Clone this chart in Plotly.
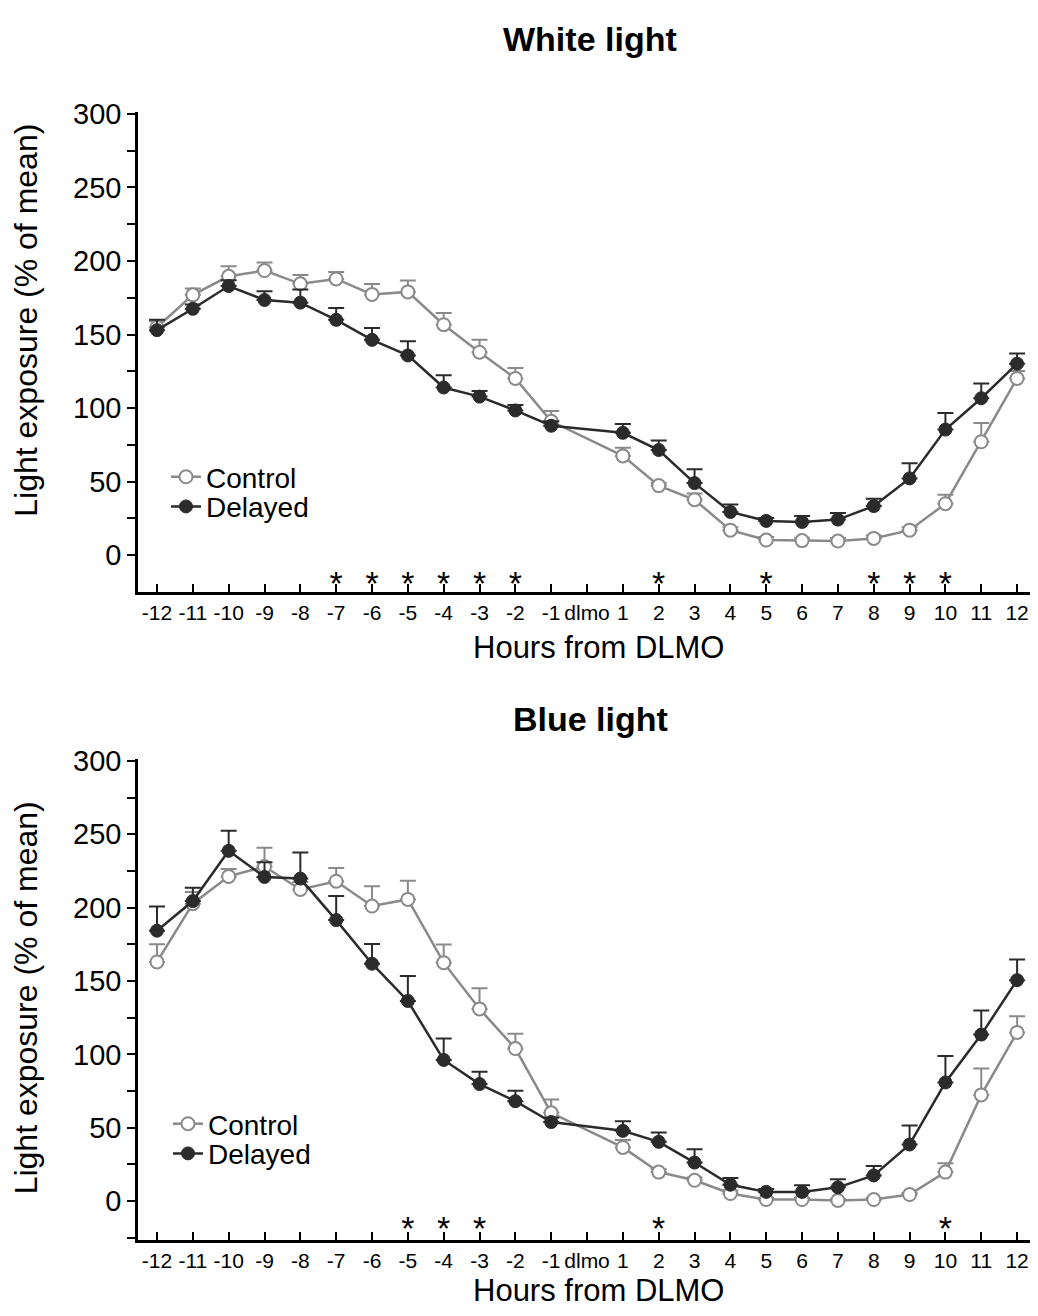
import plotly.graph_objects as go

# ---------------- data ----------------
hours = ["-12", "-11", "-10", "-9", "-8", "-7", "-6", "-5", "-4", "-3", "-2", "-1",
         "dlmo", "1", "2", "3", "4", "5", "6", "7", "8", "9", "10", "11", "12"]

white_control = [155, 177, 189.6, 193.5, 184.5, 187.8, 177.3, 179, 156.7, 138, 120.2, 91,
                 None, 67.5, 47.3, 37.7, 17, 10.3, 9.9, 9.6, 11.4, 17, 35, 77.1, 120.2]
white_control_err = [4, 4.3, 6.8, 5.5, 6, 4.7, 7, 7.7, 8, 8.4, 7, 7,
                     None, 5.5, 2, 4.3, 2, 2, 2, 2, 2, 2, 6, 12.8, 5]
white_delayed = [153, 167.5, 183, 173.5, 171.7, 160, 146.4, 135.8, 114, 107.8, 98.4, 88,
                 None, 83.2, 71.5, 49, 29.4, 23.3, 22.6, 24.2, 33.4, 52.2, 85.4, 106.7, 130.2]
white_delayed_err = [7, 3, 4, 6, 9, 8, 8, 9.7, 8.4, 3.8, 3.7, 3,
                     None, 6, 6.5, 9.5, 5, 2, 4, 4.5, 5, 10.3, 11.2, 10, 7]
white_sig = ["-7", "-6", "-5", "-4", "-3", "-2", "2", "5", "8", "9", "10"]

blue_control = [163, 202.7, 221.3, 228, 212.4, 218, 201.1, 205.6, 162.5, 131, 104, 60.2,
                None, 36.6, 19.8, 14.2, 5.2, 1.1, 1.1, 0.5, 1.1, 4.5, 19.8, 72.4, 115]
blue_control_err = [12, 8, 5, 12.8, 5, 9, 13.5, 12.8, 12.3, 14, 10, 9,
                    None, 5, 2, 2, 2, 1, 1, 1, 1, 1, 6, 18, 11]
blue_delayed = [184.3, 204.5, 238.7, 220.9, 219.8, 191.5, 161.8, 136.4, 96.2, 79.8, 68.1, 53.9,
                None, 47.9, 40.4, 26.3, 11.2, 6.3, 6.3, 9.4, 17.5, 38.6, 80.9, 113.5, 150.6]
blue_delayed_err = [16.4, 9, 13.7, 10, 17.7, 16.4, 13.5, 17, 14.6, 8.3, 7.2, 3,
                    None, 6.5, 6.3, 9, 4.5, 2, 4.5, 5.6, 6.5, 13, 18, 16.4, 14]
blue_sig = ["-5", "-4", "-3", "2", "10"]

y_ticks = [0, 50, 100, 150, 200, 250, 300]

# ---------------- styling ----------------
PAGE_MARGIN = 8           # default body margin of the html page
W, H = 1038 - 2 * PAGE_MARGIN, 1316 - 2 * PAGE_MARGIN
FONT = "Liberation Sans, Arial, sans-serif"
GRAY = "#8a8a8a"
DARK = "#2a2b2a"
SIG_Y = -21


def px_x(p):
    return (p - PAGE_MARGIN) / W


def px_y(p):
    return 1 - (p - PAGE_MARGIN) / H


fig = go.Figure()

panels = [
    dict(ctrl=white_control, ctrl_err=white_control_err, dly=white_delayed, dly_err=white_delayed_err,
         sig=white_sig, xa="x", ya="y", lg_c="legend", lg_d="legend2"),
    dict(ctrl=blue_control, ctrl_err=blue_control_err, dly=blue_delayed, dly_err=blue_delayed_err,
         sig=blue_sig, xa="x2", ya="y2", lg_c="legend3", lg_d="legend4"),
]

for p in panels:
    fig.add_trace(go.Scatter(
        x=hours, y=p["ctrl"], name="Control", mode="lines+markers", connectgaps=True,
        line=dict(color=GRAY, width=2.5),
        marker=dict(symbol="circle", size=13, color="white", line=dict(color=GRAY, width=2)),
        error_y=dict(type="data", symmetric=False, array=p["ctrl_err"],
                     arrayminus=[0] * len(hours), color=GRAY, thickness=2, width=8),
        xaxis=p["xa"], yaxis=p["ya"], legend=p["lg_c"]))
    fig.add_trace(go.Scatter(
        x=hours, y=p["dly"], name="Delayed", mode="lines+markers", connectgaps=True,
        line=dict(color=DARK, width=2.5),
        marker=dict(symbol="circle", size=13, color=DARK, line=dict(color=DARK, width=1)),
        error_y=dict(type="data", symmetric=False, array=p["dly_err"],
                     arrayminus=[0] * len(hours), color=DARK, thickness=2, width=8),
        xaxis=p["xa"], yaxis=p["ya"], legend=p["lg_d"]))
    fig.add_trace(go.Scatter(
        x=p["sig"], y=[SIG_Y] * len(p["sig"]), mode="text", text=["*"] * len(p["sig"]),
        textfont=dict(family=FONT, size=34, color="black"), showlegend=False,
        hoverinfo="skip", xaxis=p["xa"], yaxis=p["ya"]))

xdom = [px_x(138), 1.0]
xcommon = dict(type="category", categoryorder="array", categoryarray=hours,
               range=[-0.53, 24.36], showline=True, linecolor="black", linewidth=2.5,
               ticks="inside", ticklen=8, tickwidth=2, tickcolor="black",
               showgrid=False, zeroline=False, domain=xdom,
               tickfont=dict(family=FONT, size=21, color="black"))
ycommon = dict(showline=True, linecolor="black", linewidth=2.5,
               ticks="outside", ticklen=8, tickwidth=2, tickcolor="black",
               tickvals=y_ticks, showgrid=False, zeroline=False,
               minor=dict(dtick=25, tick0=0, ticks="outside", ticklen=8, tickwidth=2,
                          tickcolor="black", showgrid=False),
               tickfont=dict(family=FONT, size=29, color="black"))


def legend_at(x, y):
    return dict(x=px_x(x), y=px_y(y), xanchor="left", yanchor="middle",
                bgcolor="rgba(0,0,0,0)", borderwidth=0,
                font=dict(family=FONT, size=28, color="black"),
                itemwidth=30, tracegroupgap=0)


fig.update_layout(
    width=W, height=H, autosize=False,
    margin=dict(l=0, r=0, t=0, b=0),
    paper_bgcolor="white", plot_bgcolor="white",
    font=dict(family=FONT, color="black"),
    xaxis=dict(**xcommon, anchor="y"),
    yaxis=dict(**ycommon, range=[-24.9, 301.3], anchor="x", domain=[px_y(584), px_y(99)]),
    xaxis2=dict(**xcommon, anchor="y2"),
    yaxis2=dict(**ycommon, range=[-26.3, 301.3], anchor="x2", domain=[px_y(1239), px_y(753)]),
    legend=legend_at(166, 468),
    legend2=legend_at(166, 498),
    legend3=legend_at(168, 1122),
    legend4=legend_at(168, 1152),
    showlegend=True,
)

ann = []
for title, ty, xt_y, yt_y in [("White light", 25, 640, 310), ("Blue light", 713, 1290, 995)]:
    ann.append(dict(text=f"<b>{title}</b>", x=px_x(590), y=px_y(ty), xref="paper", yref="paper",
                    xanchor="center", yanchor="middle", showarrow=False,
                    font=dict(family=FONT, size=34, color="black")))
    ann.append(dict(text="Hours from DLMO", x=px_x(598), y=px_y(xt_y), xref="paper", yref="paper",
                    xanchor="center", yanchor="middle", showarrow=False,
                    font=dict(family=FONT, size=31, color="black")))
    ann.append(dict(text="Light exposure (% of mean)", x=px_x(26), y=px_y(yt_y), xref="paper",
                    yref="paper", xanchor="center", yanchor="middle", showarrow=False,
                    textangle=-90, font=dict(family=FONT, size=32, color="black")))
fig.update_layout(annotations=ann)

fig.write_html("out.html")
